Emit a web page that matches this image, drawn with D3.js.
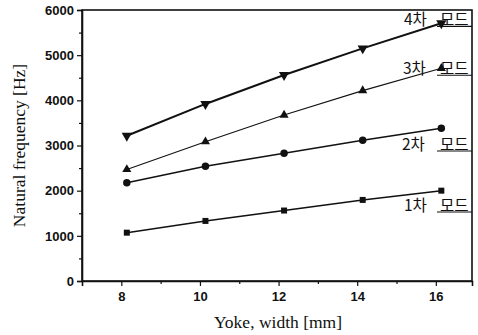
<!DOCTYPE html>
<html>
<head>
<meta charset="utf-8">
<script src="https://cdn.jsdelivr.net/npm/d3@7"></script>
<style>
  body { margin: 0; background: #fff; }
  svg { display: block; }
  .tick text { font-family: "Liberation Sans", Arial, sans-serif; font-size: 13px; font-weight: bold; fill: #111; }
  .ttl { font-family: "Liberation Serif", "Times New Roman", serif; font-size: 17.5px; fill: #111; }
  .lab { font-family: "Noto Sans CJK KR", "Liberation Serif", serif; font-size: 15.5px; fill: #111; }
</style>
</head>
<body>
<script>
// yoke width (mm) and natural frequency (Hz) per mode
const yokeWidth = [8.14, 10.14, 12.14, 14.14, 16.14];
const mode1 = [1070, 1330, 1560, 1795, 2000];
const mode2 = [2175, 2540, 2830, 3115, 3380];
const mode3 = [2470, 3085, 3675, 4215, 4710];
const mode4 = [3215, 3920, 4560, 5150, 5705];
const modeNames = ["1차", "2차", "3차", "4차"];
const modeWord = "모드";
const xTicks = [8, 10, 12, 14, 16];
const yTicks = [0, 1000, 2000, 3000, 4000, 5000, 6000];

const W = 478, H = 335;
const m = {left: 82, right: 6, top: 10, bottom: 54};

const svg = d3.select("body").append("svg").attr("width", W).attr("height", H);

const x = d3.scaleLinear().domain([7, 16.92]).range([m.left, W - m.right]);
const y = d3.scaleLinear().domain([0, 6000]).range([H - m.bottom, m.top]);

// frame
svg.append("rect")
  .attr("x", x.range()[0]).attr("y", y.range()[1])
  .attr("width", x.range()[1] - x.range()[0])
  .attr("height", y.range()[0] - y.range()[1])
  .attr("fill", "none").attr("stroke", "#111").attr("stroke-width", 1.6);

// minor ticks
svg.append("g").attr("transform", `translate(0,${y(0)})`)
  .call(d3.axisBottom(x).tickValues([9, 11, 13, 15]).tickSize(3).tickFormat(""))
  .call(g => g.select(".domain").remove());
svg.append("g").attr("transform", `translate(${x(7)},0)`)
  .call(d3.axisLeft(y).tickValues([500, 1500, 2500, 3500, 4500, 5500]).tickSize(3).tickFormat(""))
  .call(g => g.select(".domain").remove());

const xAxis = svg.append("g").attr("transform", `translate(0,${y(0)})`)
  .call(d3.axisBottom(x).tickValues(xTicks).tickSize(5).tickPadding(6).tickFormat(d3.format("d")));
const yAxis = svg.append("g").attr("transform", `translate(${x(7)},0)`)
  .call(d3.axisLeft(y).tickValues(yTicks).tickSize(5).tickPadding(3).tickFormat(d3.format("d")));
[xAxis, yAxis].forEach(a => {
  a.select(".domain").attr("stroke", "#111").attr("stroke-width", 1.6);
});
svg.selectAll(".tick line").attr("stroke", "#111").attr("stroke-width", 1.2);

// titles
svg.append("text").attr("class", "ttl")
  .attr("x", 278).attr("y", 328).attr("text-anchor", "middle")
  .text("Yoke, width [mm]");
svg.append("text").attr("class", "ttl")
  .attr("transform", `translate(25,${(y(0) + y(6000)) / 2}) rotate(-90)`)
  .attr("text-anchor", "middle")
  .text("Natural frequency [Hz]");

const line = d3.line().x(d => x(d[0])).y(d => y(d[1]));

const series = [
  {vals: mode1, sym: d3.symbolSquare, size: 36, sw: 1.5, rot: 0},
  {vals: mode2, sym: d3.symbolCircle, size: 44, sw: 1.5, rot: 0},
  {vals: mode3, sym: d3.symbolTriangle, size: 36, sw: 1.1, rot: 0},
  {vals: mode4, sym: d3.symbolTriangle, size: 46, sw: 2, rot: 180}
];

series.forEach(s => {
  const pts = yokeWidth.map((w, i) => [w, s.vals[i]]);
  svg.append("path").datum(pts)
    .attr("d", line).attr("fill", "none")
    .attr("stroke", "#111").attr("stroke-width", s.sw);
  svg.append("g").selectAll("path").data(pts).join("path")
    .attr("transform", d => `translate(${x(d[0])},${y(d[1])}) rotate(${s.rot})`)
    .attr("d", d3.symbol(s.sym, s.size)).attr("fill", "#111");
});

// mode labels
const labY = [1560, 2910, 4590, 5670];
const labX = [404, 402, 403, 404];
modeNames.forEach((name, i) => {
  const by = y(labY[i]);
  svg.append("text").attr("class", "lab")
    .attr("x", labX[i]).attr("y", by).text(name);
  svg.append("text").attr("class", "lab")
    .attr("x", 440).attr("y", by).text(modeWord);
  svg.append("line")
    .attr("x1", 437).attr("x2", x(16.92))
    .attr("y1", by + 1.5).attr("y2", by + 1.5)
    .attr("stroke", "#111").attr("stroke-width", 1.1);
});
</script>
</body>
</html>
